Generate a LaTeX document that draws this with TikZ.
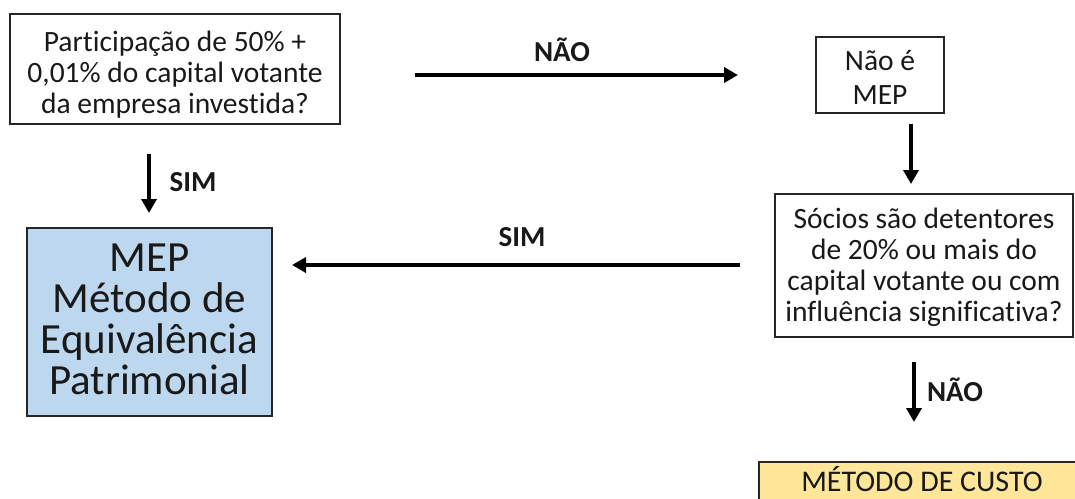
\documentclass[tikz,border=0pt]{standalone}
\usepackage{fontspec}
\setmainfont{Carlito}[Ligatures=NoCommon]
\usetikzlibrary{arrows.meta}
\definecolor{mepblue}{HTML}{BDD7EE}
\definecolor{custoyellow}{HTML}{FFE699}
\begin{document}
\begin{tikzpicture}[x=1pt,y=-1pt,
  box/.style={draw=black!85,line width=1.6pt,inner sep=0pt},
  txt/.style={align=center,inner sep=0pt,text=black!90,font=\fontsize{29.5}{31}\selectfont},
  flow/.style={line width=3.6pt,-{Triangle[length=14pt,width=15pt]}},
  lbl/.style={font=\bfseries\fontsize{29}{32}\selectfont,text=black!90}]
\useasboundingbox (0,0) rectangle (1075,498);
\clip (0,0) rectangle (1075,498);
\fill[white] (0,0) rectangle (1075,498);

% boxes
\node[box,minimum width=330pt,minimum height=110pt] (q1) at (175,69) {};
\node[box,minimum width=128pt,minimum height=76pt] (nao) at (880,75) {};
\node[box,minimum width=298pt,minimum height=143pt] (q2) at (924,265.5) {};
\node[box,fill=mepblue,minimum width=245pt,minimum height=188pt] (mep) at (149.5,322) {};
\node[box,fill=custoyellow,minimum width=330pt,minimum height=44pt,anchor=north west] (custo) at (758,461) {};

% texts
\node[txt] (q1t) at (175,75)
  {Participação de 50\% +\\0,01\% do capital votante\\da empresa investida?};
\node[txt,font=\fontsize{29.5}{34}\selectfont] (naot) at (880,77.5)
  {Não é\\MEP};
\node[txt] (q2t) at (924,267.5)
  {Sócios são detentores\\de 20\% ou mais do\\capital votante ou com\\influência significativa?};
\node[txt,font=\fontsize{43}{41}\selectfont] (mept) at (149.5,319)
  {MEP\\Método de\\Equivalência\\Patrimonial};
\node[txt,font=\fontsize{30}{32}\selectfont] (custot) at (922,479)
  {MÉTODO DE CUSTO};

% connectors
\coordinate (a1s) at (415,75);
\coordinate (a1e) at (738,75);
\coordinate (a2s) at (911,124);
\coordinate (a2e) at (911,184);
\coordinate (a3s) at (740,265);
\coordinate (a3e) at (292,265);
\coordinate (a4s) at (149,154);
\coordinate (a4e) at (149,213);
\coordinate (a5s) at (914,362);
\coordinate (a5e) at (914,422);

\draw[flow] (a1s) -- (a1e);
\draw[flow] (a2s) -- (a2e);
\draw[flow] (a3s) -- (a3e);
\draw[flow] (a4s) -- (a4e);
\draw[flow] (a5s) -- (a5e);

\node[lbl] (l1) at (562,50) {NÃO};
\node[lbl] (l3) at (522,237) {SIM};
\node[lbl] (l4) at (193,182) {SIM};
\node[lbl] (l5) at (955,390) {NÃO};
\end{tikzpicture}
\end{document}
